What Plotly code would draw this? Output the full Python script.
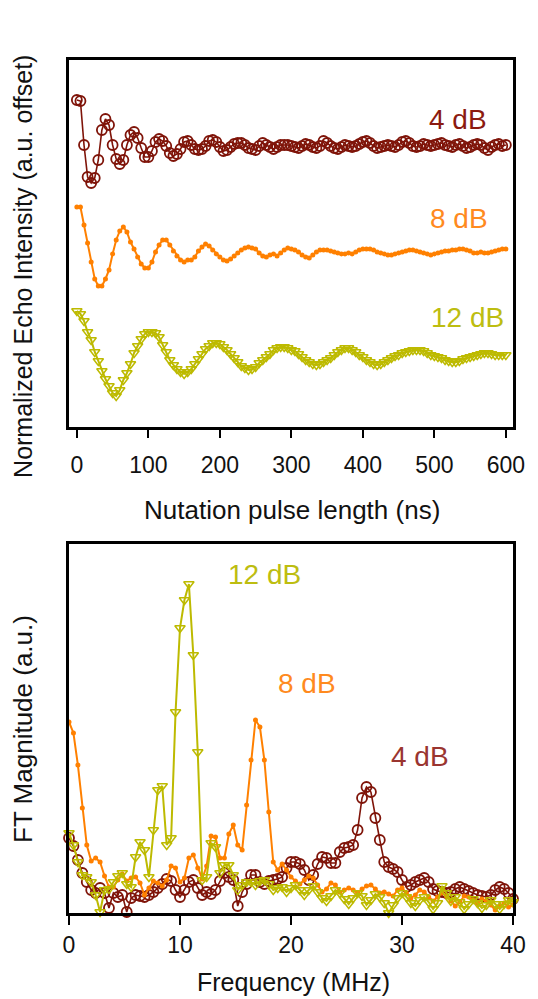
import plotly.graph_objects as go

# ---------------- Top panel: nutation traces (a.u., offset) ----------------
t_ns = list(range(0, 601, 5))

echo_4dB = [
    327, 326, 282, 250, 244, 249, 267, 297, 308, 302,
    282, 268, 263, 267, 282, 292, 295, 289, 279, 270,
    270, 276, 285, 288, 286, 281, 274, 271, 273, 278,
    285, 286, 282, 278, 277, 278, 281, 286, 287, 285,
    280, 276, 277, 280, 283, 284, 284, 282, 279, 278,
    277, 281, 284, 282, 280, 278, 280, 282, 282, 282,
    281, 280, 279, 281, 283, 282, 280, 279, 281, 286,
    284, 281, 279, 278, 280, 282, 281, 280, 281, 283,
    285, 286, 284, 281, 279, 280, 281, 282, 281, 280,
    282, 285, 286, 284, 281, 280, 281, 283, 282, 281,
    282, 283, 284, 282, 281, 280, 282, 283, 281, 279,
    280, 282, 283, 282, 279, 277, 280, 282, 283, 281,
    282]

echo_8dB = [
    220, 220, 202, 184, 165, 148, 141, 141, 148, 157,
    173, 187, 196, 200, 195, 185, 178, 170, 163, 159,
    159, 165, 175, 182, 187, 187, 182, 176, 171, 167,
    165, 167, 167, 170, 176, 180, 183, 181, 177, 173,
    170, 167, 166, 168, 171, 174, 177, 179, 180, 179,
    178, 174, 171, 170, 172, 173, 171, 174, 177, 179,
    178, 177, 175, 172, 170, 169, 172, 175, 177, 177,
    177, 176, 175, 174, 173, 173, 174, 173, 175, 177,
    178, 178, 178, 177, 175, 174, 173, 172, 172, 173,
    174, 175, 176, 177, 177, 176, 175, 174, 173, 172,
    173, 174, 175, 176, 176, 177, 177, 178, 178, 177,
    176, 174, 174, 175, 174, 174, 175, 176, 177, 178,
    178]

echo_12dB = [
    116, 113, 106, 95, 87, 75, 66, 56, 48, 41,
    34, 31, 37, 47, 54, 63, 74, 81, 88, 93,
    95, 95, 94, 90, 82, 75, 67, 62, 58, 55,
    53, 55, 58, 63, 68, 73, 78, 81, 84, 84,
    83, 80, 77, 73, 69, 65, 61, 59, 57, 58,
    60, 64, 67, 70, 73, 77, 79, 80, 80, 79,
    77, 76, 73, 70, 67, 65, 63, 62, 63, 65,
    67, 69, 72, 75, 77, 79, 79, 77, 75, 72,
    70, 67, 65, 63, 62, 63, 65, 67, 69, 71,
    72, 74, 75, 76, 77, 77, 77, 76, 74, 72,
    71, 70, 69, 67, 66, 65, 65, 66, 68, 69,
    70, 71, 72, 73, 74, 74, 73, 72, 72, 72,
    72]

top_ticks = [0, 100, 200, 300, 400, 500, 600]

# ---------------- Bottom panel: FT magnitude (a.u.) ----------------
freq_MHz = [round(0.4 * i, 1) for i in range(101)]

ft_4dB_px = [
    838, 846, 860, 873, 882, 890, 893, 888, 893, 908,
    893, 897, 895, 912, 898, 895, 896, 897, 895, 892,
    888, 884, 879, 881, 890, 897, 890, 882, 880, 888,
    895, 892, 894, 890, 881, 873, 877, 880, 906, 892,
    884, 875, 875, 882, 884, 881, 880, 879, 877, 868,
    862, 862, 864, 870, 880, 875, 864, 857, 858, 863,
    863, 852, 848, 847, 845, 830, 798, 787, 792, 818,
    840, 862, 867, 869, 872, 880, 887, 885, 882, 880,
    878, 882, 889, 891, 892, 893, 892, 889, 887, 889,
    891, 893, 895, 896, 897, 895, 890, 887, 889, 893,
    899]

ft_8dB_px = [
    722, 733, 765, 808, 845, 861, 858, 862, 876, 887,
    887, 880, 874, 881, 878, 877, 883, 895, 888, 881,
    883, 886, 880, 866, 868, 882, 878, 858, 855, 868,
    879, 866, 836, 837, 858, 858, 834, 825, 845, 850,
    805, 760, 720, 727, 760, 812, 862, 870, 864, 870,
    877, 881, 884, 880, 876, 878, 885, 892, 889, 883,
    885, 892, 890, 888, 890, 893, 889, 886, 885, 889,
    893, 892, 894, 896, 890, 888, 893, 898, 895, 890,
    892, 897, 901, 897, 893, 896, 901, 906, 902, 896,
    897, 900, 903, 899, 901, 905, 910, 906, 903, 907,
    905]

ft_12dB_px = [
    833, 845, 862, 875, 877, 882, 895, 912, 890, 889,
    882, 876, 873, 884, 887, 857, 842, 850, 877, 830,
    790, 786, 845, 838, 712, 628, 600, 584, 655, 752,
    880, 877, 843, 847, 873, 865, 865, 875, 890, 885,
    882, 882, 885, 881, 880, 884, 890, 888, 887, 892,
    888, 885, 890, 895, 890, 886, 892, 898, 901, 896,
    890, 893, 899, 904, 898, 893, 896, 905, 900, 894,
    897, 903, 913, 905, 898, 893, 897, 903, 906, 900,
    897, 902, 909, 903, 886, 893, 901, 897, 902, 909,
    904, 899, 903, 908, 905, 900, 904, 909, 904, 900,
    902]

# magnitudes measured from the lower frame (a.u.)
ft_4dB = [913 - v for v in ft_4dB_px]
ft_8dB = [913 - v for v in ft_8dB_px]
ft_12dB = [913 - v for v in ft_12dB_px]

bottom_ticks = [0, 10, 20, 30, 40]

series_names = ["4 dB", "8 dB", "12 dB"]

# ---------------- styling ----------------
C4 = "#7F1409"
C8 = "#FF8000"
C12 = "#BDBA00"
FONT = "Arial, Liberation Sans, sans-serif"

fig = go.Figure()

def add(x, y, name, xa, ya, kind):
    if kind == 4:
        marker = dict(symbol="circle-open", size=10, color=C4, line=dict(width=1.8, color=C4))
        line = dict(color=C4, width=1.6)
    elif kind == 8:
        marker = dict(symbol="circle", size=5, color=C8, line=dict(width=0))
        line = dict(color=C8, width=2)
    else:
        marker = dict(symbol="triangle-down-open", size=9, color=C12, line=dict(width=1.5, color=C12))
        line = dict(color=C12, width=2)
    fig.add_trace(go.Scatter(x=x, y=y, name=name, mode="lines+markers",
                             marker=marker, line=line, xaxis=xa, yaxis=ya,
                             cliponaxis=False, showlegend=False))

add(t_ns, echo_4dB, series_names[0], "x", "y", 4)
add(t_ns, echo_8dB, series_names[1], "x", "y", 8)
add(t_ns, echo_12dB, series_names[2], "x", "y", 12)

add(freq_MHz, ft_4dB, series_names[0], "x2", "y2", 4)
add(freq_MHz, ft_8dB, series_names[1], "x2", "y2", 8)
add(freq_MHz, ft_12dB, series_names[2], "x2", "y2", 12)

frame = dict(showline=True, linecolor="black", linewidth=2.5, mirror=True,
             showgrid=False, zeroline=False)

fig.update_layout(
    width=538, height=999,
    margin=dict(l=69, r=16, t=60, b=86),
    paper_bgcolor="white", plot_bgcolor="white",
    font=dict(family=FONT, color="black"),
    xaxis=dict(**frame, range=[-11, 610], tickvals=top_ticks,
               ticks="outside", ticklen=8, tickwidth=2, tickcolor="black",
               tickfont=dict(size=23, color="#111"), ticklabelstandoff=8,
               anchor="y"),
    yaxis=dict(**frame, range=[0, 367], showticklabels=False, ticks="",
               domain=[0.5698, 1.0], anchor="x"),
    xaxis2=dict(**frame, range=[0, 40], tickvals=bottom_ticks,
                ticks="outside", ticklen=9, tickwidth=2, tickcolor="black",
                tickfont=dict(size=23, color="#111"), ticklabelstandoff=1,
                anchor="y2"),
    yaxis2=dict(**frame, range=[0, 369], showticklabels=False, ticks="",
                domain=[0.0, 0.4326], anchor="x2"),
)

# series labels
lab = dict(size=28, family=FONT)
fig.add_annotation(x=533, y=307, xref="x", yref="y", text="4 dB", showarrow=False,
                   font=dict(**lab, color="#8B1A10"))
fig.add_annotation(x=535, y=208, xref="x", yref="y", text="8 dB", showarrow=False,
                   font=dict(**lab, color="#FF8A1E"))
fig.add_annotation(x=547, y=109, xref="x", yref="y", text="12 dB", showarrow=False,
                   font=dict(**lab, color="#BDBD10"))
fig.add_annotation(x=17.6, y=338, xref="x2", yref="y2", text="12 dB", showarrow=False,
                   font=dict(**lab, color="#BDBD10"))
fig.add_annotation(x=21.4, y=229, xref="x2", yref="y2", text="8 dB", showarrow=False,
                   font=dict(**lab, color="#FF8A1E"))
fig.add_annotation(x=31.6, y=156, xref="x2", yref="y2", text="4 dB", showarrow=False,
                   font=dict(**lab, color="#9A3530"))

# axis titles
ctr = dict(xanchor="center", yanchor="middle", showarrow=False,
           xref="paper", yref="paper")
fig.add_annotation(x=-0.1038, y=0.7585, text="Normalized Echo Intensity (a.u. offset)",
                   textangle=-90, font=dict(size=25, family=FONT, color="#111"), **ctr)
fig.add_annotation(x=-0.1038, y=0.2157, text="FT Magnitude (a.u.)",
                   textangle=-90, font=dict(size=26, family=FONT, color="#111"), **ctr)
fig.add_annotation(x=0.502, y=0.4725, text="Nutation pulse length (ns)",
                   font=dict(size=26, family=FONT, color="#111"), **ctr)
fig.add_annotation(x=0.5055, y=-0.0809, text="Frequency (MHz)",
                   font=dict(size=25, family=FONT, color="#111"), **ctr)

fig.write_html("out.html")
